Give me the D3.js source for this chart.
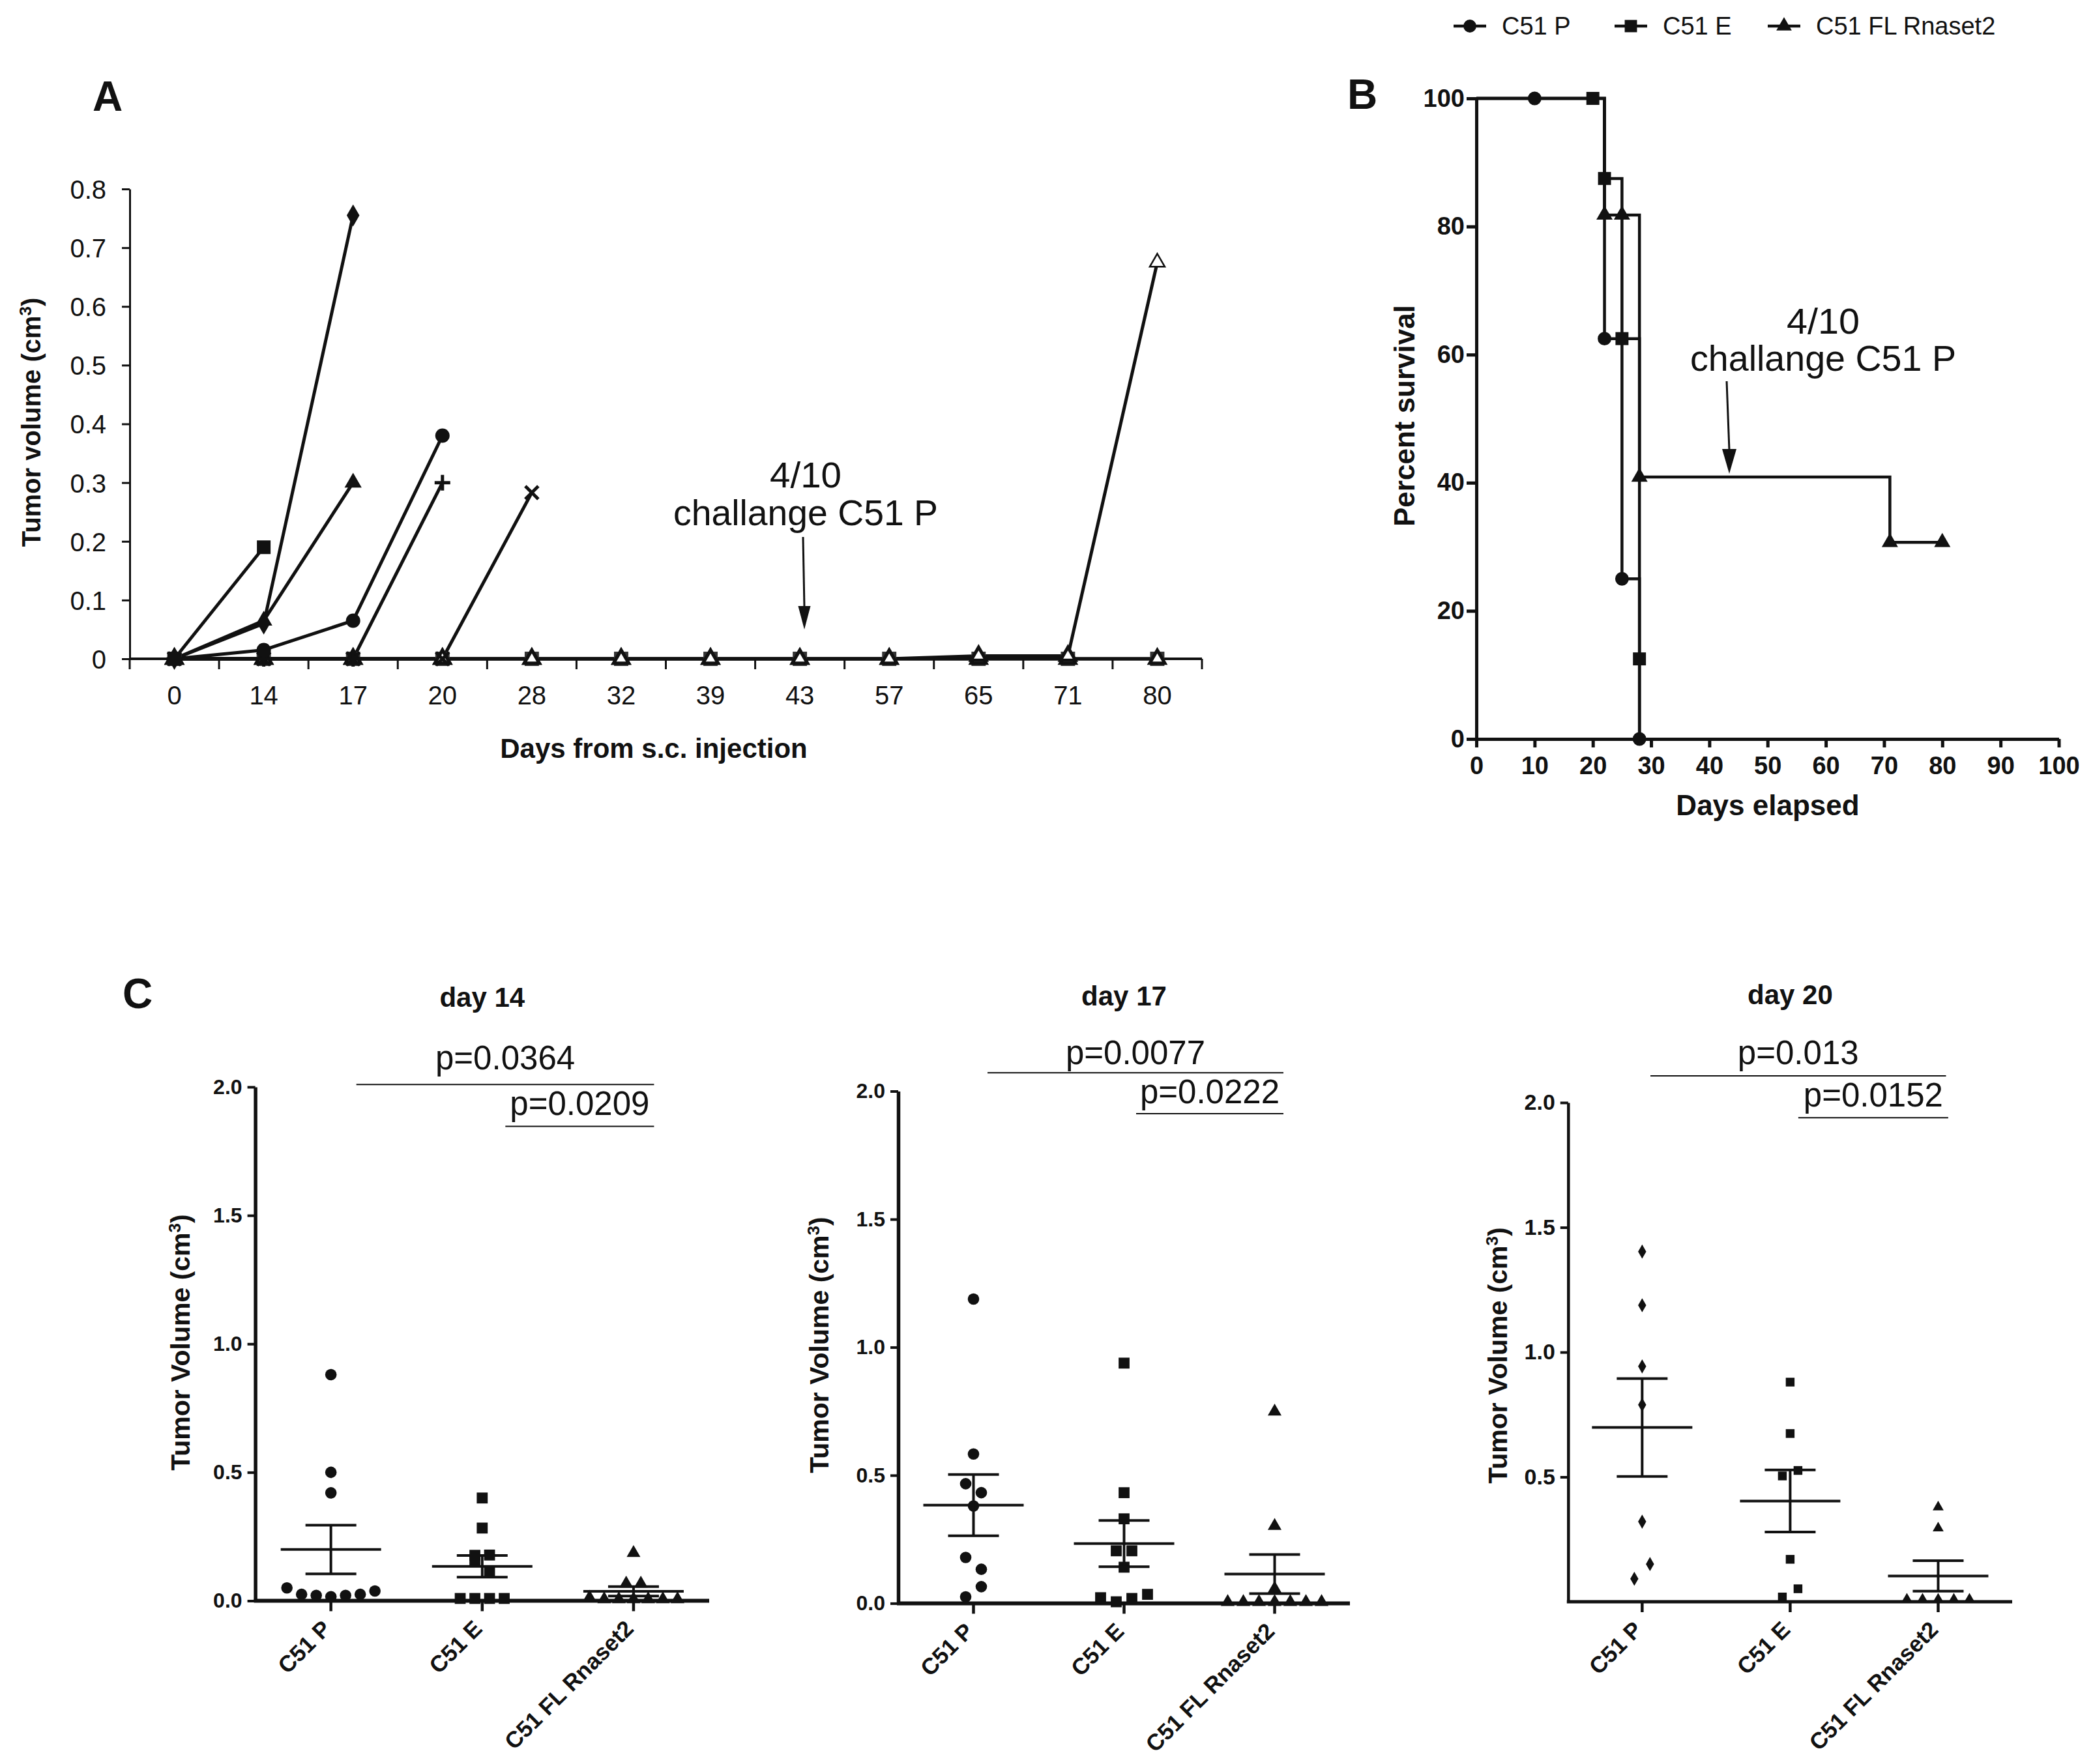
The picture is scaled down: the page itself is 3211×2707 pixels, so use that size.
<!DOCTYPE html>
<html>
<head>
<meta charset="utf-8">
<script src="https://cdn.jsdelivr.net/npm/d3@7"></script>
<style>
  body { margin: 0; background: #fff; }
</style>
</head>
<body>
<svg id="fig" width="3211" height="2707"></svg>
<script>
// ---- panel A: individual mice, tumour volume per measuring day
const daysA = ['0', '14', '17', '20', '28', '32', '39', '43', '57', '65', '71', '80'];
const mouseSquare = [0, 0.19];
const mouseDiamond = [0, 0.06, 0.755];
const mouseTriangle = [0, 0.065, 0.30];
const mouseCircle = [0, 0.015, 0.065, 0.38];
const mousePlus = [0, 0, 0, 0.30];
const mouseCross = [0, 0, 0, 0, 0.283];
const mouseZeroA = [0, 0, 0, 0, 0, 0, 0, 0, 0, 0, 0, 0];
const mouseLate = [0, 0, 0, 0, 0, 0, 0, 0, 0, 0.005, 0.005, 0.675];
const mouseZeroB = [0, 0, 0, 0, 0, 0, 0, 0, 0, 0, 0, 0];
const ticksA = [0, 0.1, 0.2, 0.3, 0.4, 0.5, 0.6, 0.7, 0.8];

// ---- panel B: Kaplan-Meier survival
const survGroups = ['C51 P', 'C51 E', 'C51 FL Rnaset2'];
const kmP = [[0, 100], [22, 62.5], [25, 25], [28, 0]];
const kmE = [[0, 100], [22, 87.5], [25, 62.5], [28, 12.5], [28, 0]];
const kmFL = [[0, 100], [22, 81.8], [28, 40.9], [71, 30.7], [80, 30.7]];
const symP = [[10, 100], [22, 62.5], [25, 25], [28, 0]];
const symE = [[20, 100], [22, 87.5], [25, 62.5], [28, 12.5]];
const symFL = [[22, 81.8], [25, 81.8], [28, 40.9], [71, 30.7], [80, 30.7]];
const ticksBx = [0, 10, 20, 30, 40, 50, 60, 70, 80, 90, 100];
const ticksBy = [0, 20, 40, 60, 80, 100];

// ---- panel C: scatter per group on days 14, 17, 20
const groups = ['C51 P', 'C51 E', 'C51 FL Rnaset2'];
const day14P = [0.88, 0.50, 0.42, 0.05, 0.025, 0.021, 0.016, 0.021, 0.025, 0.038];
const day14E = [0.40, 0.283, 0.177, 0.156, 0.178, 0.111, 0.009, 0.009, 0.009, 0.009];
const day14FL = [0.186, 0.067, 0.067, 0.012, 0.006, 0.006, 0.006, 0.006, 0.006, 0.006];
const day17P = [1.188, 0.583, 0.467, 0.432, 0.38, 0.179, 0.133, 0.025, 0.065];
const day17E = [0.938, 0.432, 0.33, 0.205, 0.205, 0.141, 0.022, 0.006, 0.019, 0.035];
const day17FL = [0.749, 0.302, 0.057, 0.005, 0.005, 0.005, 0.005, 0.005, 0.005, 0.005];
const day20P = [1.403, 1.188, 0.943, 0.789, 0.321, 0.092, 0.151];
const day20E = [0.88, 0.674, 0.504, 0.526, 0.17, 0.019, 0.052];
const day20FL = [0.379, 0.295, 0.01, 0.01, 0.01, 0.01, 0.01];
const pDay14 = ['p=0.0364', 'p=0.0209'];
const pDay17 = ['p=0.0077', 'p=0.0222'];
const pDay20 = ['p=0.013', 'p=0.0152'];
const ticksC = [0, 0.5, 1.0, 1.5, 2.0];

const FONT = '"Liberation Sans", Arial, Helvetica, sans-serif';
const INK = '#111';

const svg = d3.select('#fig');
svg.append('rect').attr('width', 3211).attr('height', 2707).attr('fill', '#fff');

function styleAxis(g, o) {
    g.attr('font-family', FONT).attr('font-size', o.size).attr('font-weight', o.weight || 'normal');
    g.select('.domain').attr('stroke', INK).attr('stroke-width', o.domain);
    g.selectAll('.tick line').attr('stroke', INK).attr('stroke-width', o.tick);
    g.selectAll('.tick text').attr('fill', INK);
}

function label(g, txt, x, y, size, weight, anchor) {
    return g.append('text')
        .attr('x', x).attr('y', y)
        .attr('font-family', FONT)
        .attr('font-size', size)
        .attr('font-weight', weight || 'normal')
        .attr('text-anchor', anchor || 'middle')
        .attr('fill', INK)
        .text(txt);
}

function marker(g, shape, x, y, s) {
    const p = g.append('path').attr('transform', 'translate(' + x + ',' + y + ')');
    const sym = function(type, size) { return d3.symbol().type(type).size(size * s * s)(); };
    if (shape === 'circle') p.attr('d', sym(d3.symbolCircle, 380)).attr('fill', INK);
    if (shape === 'square') p.attr('d', sym(d3.symbolSquare, 440)).attr('fill', INK);
    if (shape === 'triangle') p.attr('d', sym(d3.symbolTriangle, 300)).attr('fill', INK);
    if (shape === 'diamond') p.attr('d', sym(d3.symbolDiamond, 330)).attr('fill', INK);
    if (shape === 'grey') p.attr('d', sym(d3.symbolSquare, 480)).attr('fill', '#333');
    if (shape === 'open') {
        p.attr('d', sym(d3.symbolTriangle, 230)).attr('fill', '#fff')
            .attr('stroke', INK).attr('stroke-width', y < 900 ? 2.5 : 5);
    }
    if (shape === 'plus') {
        p.attr('d', 'M-12,0H12M0,-12V12').attr('stroke', INK).attr('stroke-width', 5).attr('fill', 'none');
    }
    if (shape === 'cross') {
        p.attr('d', 'M-10,-10L10,10M-10,10L10,-10').attr('stroke', INK).attr('stroke-width', 5).attr('fill', 'none');
    }
    return p;
}

function arrow(g, x1, y1, x2, y2, headLen, headW) {
    g.append('line').attr('x1', x1).attr('y1', y1).attr('x2', x2).attr('y2', y2 - headLen + 2)
        .attr('stroke', INK).attr('stroke-width', 3);
    g.append('path')
        .attr('d', 'M' + (x2 - headW / 2) + ',' + (y2 - headLen) + 'L' + (x2 + headW / 2) + ',' + (y2 - headLen) + 'L' + x2 + ',' + y2 + 'Z')
        .attr('fill', INK);
}

function challenge(g, cx, y1, y2, size, w1, w2) {
    label(g, '4/10', cx, y1, size).attr('textLength', w1).attr('lengthAdjust', 'spacingAndGlyphs');
    label(g, 'challange C51 P', cx, y2, size).attr('textLength', w2).attr('lengthAdjust', 'spacingAndGlyphs');
}

// ================= Panel A =================
const gA = svg.append('g');
const xA = d3.scaleBand().domain(daysA).range([199, 1844]);
const yA = d3.scaleLinear().domain([0, 0.8]).range([1011, 290]);
const cxA = function(d) { return xA(d) + xA.bandwidth() / 2; };

gA.append('g').attr('transform', 'translate(199,0)')
    .call(d3.axisLeft(yA).tickValues(ticksA).tickSize(12).tickSizeOuter(0).tickPadding(24)
        .tickFormat(function(d) { return d === 0 ? '0' : d3.format('.1f')(d); }))
    .call(styleAxis, { size: 40, domain: 3, tick: 3 })
    .selectAll('.tick text').attr('dy', '0.36em');
gA.append('line').attr('x1', 199).attr('x2', 199).attr('y1', 1011).attr('y2', 1027)
    .attr('stroke', INK).attr('stroke-width', 3);
gA.append('line').attr('x1', 199).attr('x2', xA.range()[1]).attr('y1', 1011).attr('y2', 1011)
    .attr('stroke', INK).attr('stroke-width', 4);
daysA.slice(1).map(function(d) { return xA(d); }).concat([xA.range()[1]]).forEach(function(x) {
    gA.append('line').attr('x1', x).attr('x2', x).attr('y1', 1011).attr('y2', 1027)
        .attr('stroke', INK).attr('stroke-width', 3);
});
daysA.forEach(function(d) { label(gA, d, cxA(d), 1081, 40); });

label(gA, 'Days from s.c. injection', 1003, 1163, 42, 'bold');
gA.append('text')
    .attr('transform', 'translate(62,648) rotate(-90)')
    .attr('font-family', FONT).attr('font-size', 40).attr('font-weight', 'bold')
    .attr('text-anchor', 'middle').attr('fill', INK)
    .call(function(t) {
        t.append('tspan').text('Tumor volume (cm');
        t.append('tspan').attr('font-size', 26).attr('dy', -14).text('3');
        t.append('tspan').attr('dy', 14).text(')');
    });
label(gA, 'A', 165, 170, 64, 'bold');

const seriesA = [mouseZeroA, mouseZeroB, mouseLate, mouseCross, mousePlus, mouseCircle, mouseTriangle, mouseDiamond, mouseSquare];
const shapesA = ['grey', 'open', 'open', 'cross', 'plus', 'circle', 'triangle', 'diamond', 'square'];
const lineA = d3.line();
seriesA.forEach(function(vals) {
    const pts = vals.map(function(v, j) { return [cxA(daysA[j]), yA(v)]; });
    gA.append('path').attr('d', lineA(pts)).attr('fill', 'none')
        .attr('stroke', INK).attr('stroke-width', 5).attr('stroke-linejoin', 'round');
});
seriesA.forEach(function(vals, i) {
    vals.forEach(function(v, j) { marker(gA, shapesA[i], cxA(daysA[j]), yA(v), 1); });
});

challenge(gA, 1236, 748, 806, 56, 110, 406);
arrow(gA, 1232, 824, 1234, 966, 36, 19);

// ================= Panel B =================
const gB = svg.append('g');
const xB = d3.scaleLinear().domain([0, 100]).range([2265, 3158.5]);
const yB = d3.scaleLinear().domain([0, 100]).range([1134, 151]);

gB.append('g').attr('transform', 'translate(0,1134)')
    .call(d3.axisBottom(xB).tickValues(ticksBx).tickSize(13).tickSizeOuter(0).tickPadding(14))
    .call(styleAxis, { size: 38, weight: 'bold', domain: 5, tick: 5 });
gB.append('g').attr('transform', 'translate(2265,0)')
    .call(d3.axisLeft(yB).tickValues(ticksBy).tickSize(15).tickSizeOuter(0).tickPadding(3))
    .call(styleAxis, { size: 38, weight: 'bold', domain: 5, tick: 5 });

label(gB, 'Days elapsed', 2712, 1251, 44, 'bold');
gB.append('text')
    .attr('transform', 'translate(2170,638) rotate(-90)')
    .attr('font-family', FONT).attr('font-size', 44).attr('font-weight', 'bold')
    .attr('text-anchor', 'middle').attr('fill', INK)
    .text('Percent survival');
label(gB, 'B', 2090, 167, 64, 'bold');

const stepLine = d3.line().x(function(d) { return xB(d[0]); }).y(function(d) { return yB(d[1]); })
    .curve(d3.curveStepAfter);
const kmCurves = [kmE, kmFL, kmP];
const kmSymbols = [symE, symFL, symP];
const kmShapes = ['square', 'triangle', 'circle'];
kmCurves.forEach(function(c) {
    gB.append('path').attr('d', stepLine(c)).attr('fill', 'none')
        .attr('stroke', INK).attr('stroke-width', 4.5);
});
kmSymbols.forEach(function(pts, i) {
    pts.forEach(function(p) { marker(gB, kmShapes[i], xB(p[0]), yB(p[1]), 0.95); });
});

// legend
const legendX = [2230, 2477, 2712];
const legendShapes = ['circle', 'square', 'triangle'];
survGroups.forEach(function(name, i) {
    const x = legendX[i];
    gB.append('line').attr('x1', x).attr('x2', x + 50).attr('y1', 40).attr('y2', 40)
        .attr('stroke', INK).attr('stroke-width', 4.5);
    marker(gB, legendShapes[i], x + 25, 40, 0.9);
    label(gB, name, x + 74, 53, 38, 'normal', 'start');
});

challenge(gB, 2797, 512, 569, 56, 112, 408);
arrow(gB, 2649, 585, 2653, 727, 38, 22);

// ================= Panel C =================
label(svg, 'C', 211, 1547, 64, 'bold');

const panelsC = [
    { title: 'day 14', data: [day14P, day14E, day14FL], p: pDay14, x0: 391.6, x1: 1088, yZero: 2456.5, yTwo: 1668,
      titleY: 1545, ylabX: 291, ylabY: 2060, lineY: [1664.3, 1728.6], textY: [1641, 1711],
      top: [39, 31.5], bot: [35.5, 31.5], shapes: ['circle', 'square', 'triangle'], ms: 0.8,
      rowPx: 19, step: 22.5, zeroLabel: true, axisW: 5.5, halfMean: 77, halfCap: 39, tickSize: 32 },
    { title: 'day 17', data: [day17P, day17E, day17FL], p: pDay17, x0: 1378, x1: 2071, yZero: 2460.4, yTwo: 1674.5,
      titleY: 1543, ylabX: 1271, ylabY: 2064, lineY: [1646.3, 1709], textY: [1633, 1693],
      top: [21.5, 13.5], bot: [18.5, 13.5], shapes: ['circle', 'square', 'triangle'], ms: 0.8,
      rowPx: 19, step: 24, zeroLabel: true, axisW: 5.5, halfMean: 77, halfCap: 39, tickSize: 32 },
    { title: 'day 20', data: [day20P, day20E, day20FL], p: pDay20, x0: 2405.8, x1: 3087, yZero: 2458, yTwo: 1692,
      titleY: 1541, ylabX: 2312, ylabY: 2080, lineY: [1651, 1715.3], textY: [1633, 1698],
      top: [12.7, 12], bot: [12.5, 15.4], shapes: ['diamond', 'square', 'triangle'], ms: 0.64,
      rowPx: 23, step: 24, zeroLabel: false, axisW: 4.5, halfMean: 77, halfCap: 39, tickSize: 34 }
];

// spread points of similar value into centred rows, like a GraphPad scatter
function rowOffsets(values, y, rowPx, step) {
    const idx = values.map(function(v, i) { return i; }).sort(function(a, b) { return values[a] - values[b]; });
    const rows = [];
    let cur = null;
    idx.forEach(function(i) {
        if (!cur || Math.abs(y(values[i]) - y(values[cur[0]])) > rowPx) {
            cur = [i];
            rows.push(cur);
        } else {
            cur.push(i);
        }
    });
    const off = new Array(values.length);
    rows.forEach(function(r) {
        r.sort(function(a, b) { return a - b; });
        r.forEach(function(i, k) { off[i] = (k - (r.length - 1) / 2) * step; });
    });
    return off;
}

panelsC.forEach(function(cfg) {
    const g = svg.append('g');
    const x = d3.scalePoint().domain(groups).range([cfg.x0, cfg.x1]).padding(0.5);
    const y = d3.scaleLinear().domain([0, 2]).range([cfg.yZero, cfg.yTwo]);
    const tv = cfg.zeroLabel ? ticksC : ticksC.slice(1);

    g.append('g').attr('transform', 'translate(' + cfg.x0 + ',0)')
        .call(d3.axisLeft(y).tickValues(tv).tickSize(12).tickSizeOuter(0).tickPadding(8).tickFormat(d3.format('.1f')))
        .call(styleAxis, { size: cfg.tickSize, weight: 'bold', domain: cfg.axisW, tick: 4 });
    g.append('line').attr('x1', cfg.x0 - 2).attr('x2', cfg.x1).attr('y1', cfg.yZero).attr('y2', cfg.yZero)
        .attr('stroke', INK).attr('stroke-width', cfg.axisW + 0.5);

    groups.forEach(function(gr, gi) {
        const cx = x(gr);
        g.append('line').attr('x1', cx).attr('x2', cx).attr('y1', cfg.yZero).attr('y2', cfg.yZero + 16)
            .attr('stroke', INK).attr('stroke-width', 4.5);
        g.append('text')
            .attr('transform', 'translate(' + (cx + 2) + ',' + (cfg.yZero + 45) + ') rotate(-45)')
            .attr('font-family', FONT).attr('font-size', 35).attr('font-weight', 'bold')
            .attr('text-anchor', 'end').attr('fill', INK)
            .text(gr);

        const vals = cfg.data[gi];
        const off = rowOffsets(vals, y, cfg.rowPx, cfg.step);
        vals.forEach(function(v, i) { marker(g, cfg.shapes[gi], cx + off[i], y(v), cfg.ms); });

        const mean = d3.mean(vals);
        const sem = d3.deviation(vals) / Math.sqrt(vals.length);
        const seg = function(x1, y1, x2, y2) {
            g.append('line').attr('x1', x1).attr('y1', y1).attr('x2', x2).attr('y2', y2)
                .attr('stroke', INK).attr('stroke-width', 4);
        };
        seg(cx - cfg.halfMean, y(mean), cx + cfg.halfMean, y(mean));
        seg(cx, y(mean - sem), cx, y(mean + sem));
        seg(cx - cfg.halfCap, y(mean + sem), cx + cfg.halfCap, y(mean + sem));
        seg(cx - cfg.halfCap, y(mean - sem), cx + cfg.halfCap, y(mean - sem));
    });

    label(g, cfg.title, x(groups[1]), cfg.titleY, 42, 'bold');

    g.append('text')
        .attr('transform', 'translate(' + cfg.ylabX + ',' + cfg.ylabY + ') rotate(-90)')
        .attr('font-family', FONT).attr('font-size', 41).attr('font-weight', 'bold')
        .attr('text-anchor', 'middle').attr('fill', INK)
        .call(function(t) {
            t.append('tspan').text('Tumor Volume (cm');
            t.append('tspan').attr('font-size', 26).attr('dy', -14).text('3');
            t.append('tspan').attr('dy', 14).text(')');
        });

    // significance brackets
    const spans = [
        [x(groups[0]) + cfg.top[0], x(groups[2]) + cfg.top[1]],
        [x(groups[1]) + cfg.bot[0], x(groups[2]) + cfg.bot[1]]
    ];
    spans.forEach(function(s, k) {
        g.append('line').attr('x1', s[0]).attr('x2', s[1]).attr('y1', cfg.lineY[k]).attr('y2', cfg.lineY[k])
            .attr('stroke', INK).attr('stroke-width', 2);
        label(g, cfg.p[k], (s[0] + s[1]) / 2, cfg.textY[k], 51);
    });
});
</script>
</body>
</html>
